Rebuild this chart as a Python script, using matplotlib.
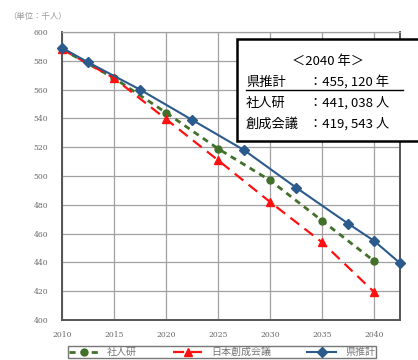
import matplotlib
matplotlib.use("Agg")
import matplotlib.pyplot as plt
from matplotlib.patches import Rectangle
from matplotlib.lines import Line2D

plt.rcParams['font.family'] = ['Noto Sans CJK JP', 'DejaVu Sans']

# data (thousand people)
years = [2010, 2015, 2020, 2025, 2030, 2035, 2040]
shajinken = [588, 568, 544, 519, 497, 469, 441]
sousei = [588, 568, 539.5, 511, 482, 454, 419.5]
ken_x = [2010, 2012.5, 2017.5, 2022.5, 2027.5, 2032.5, 2037.5, 2040, 2042.5]
ken_y = [589, 579, 560, 539, 518, 492, 467, 455, 439.5]

xticks = [2010, 2015, 2020, 2025, 2030, 2035, 2040]
yticks = list(range(400, 601, 20))

box_title = "＜2040 年＞"
box_labels = ["県推計", "社人研", "創成会議"]
box_values = ["：455, 120 年", "：441, 038 人", "：419, 543 人"]

W, H = 418, 360
fig = plt.figure(figsize=(W / 100, H / 100), dpi=100)
ax = fig.add_axes([62 / W, 1 - 320 / H, (400 - 62) / W, (320 - 32) / H])


def px(x, y):
    return x / W, 1 - y / H


ax.plot(years, shajinken, color='#42702a', lw=2.0, ls=(0, (2.2, 1.8)),
        marker='o', ms=5, label='社人研', zorder=3, clip_on=False)
ax.plot(years, sousei, color='#ff1010', lw=1.6, ls=(0, (5, 3)),
        marker='^', ms=5.5, label='日本創成会議', zorder=3, clip_on=False)
ax.plot(ken_x, ken_y, color='#2b5a8c', lw=1.5, marker='D', ms=5,
        label='県推計', zorder=4, clip_on=False)

ax.set_xlim(2010, 2042.5)
ax.set_ylim(400, 600)
ax.set_xticks(xticks)
ax.set_yticks(yticks)
ax.grid(True, color='#a0a0a0', lw=0.9)
ax.set_axisbelow(True)
ax.tick_params(length=0, labelsize=5.5, colors='#666666')
ax.tick_params(axis='x', pad=8)
ax.tick_params(axis='y', pad=10)
for lab in ax.get_xticklabels() + ax.get_yticklabels():
    lab.set_family('DejaVu Serif')
for s in ['left', 'bottom', 'right']:
    ax.spines[s].set_color('#555555')
    ax.spines[s].set_linewidth(1.4)
ax.spines['top'].set_color('#a0a0a0')
ax.spines['top'].set_linewidth(0.9)

fig.text(*px(8, 17), "（単位：千人）", fontsize=6, color='#999999',
         va='center', ha='left')

# annotation box
x0, y0 = px(237, 141)
x1, y1 = px(430, 39)
fig.patches.append(Rectangle((x0, y0), x1 - x0, y1 - y0, transform=fig.transFigure,
                             facecolor='white', edgecolor='black', lw=1.8,
                             zorder=10))
fig.text(*px(328, 62), box_title, fontsize=9.5, ha='center', va='center', zorder=11)
rows_y = [82, 103, 124]
for lab, val, yy in zip(box_labels, box_values, rows_y):
    fig.text(*px(246, yy), lab, fontsize=9.5, ha='left', va='center', zorder=11)
    fig.text(*px(309, yy), val, fontsize=9.5, ha='left', va='center', zorder=11)
fig.lines.append(Line2D([246 / W, 403 / W], [1 - 90 / H, 1 - 90 / H],
                        transform=fig.transFigure, color='black', lw=1.0,
                        zorder=11))

leg = ax.legend(ncol=3, loc='upper left', bbox_to_anchor=px(68, 346),
                bbox_transform=fig.transFigure, fontsize=7.2, frameon=True,
                fancybox=False, edgecolor='#555555', handlelength=2.9,
                handletextpad=0.9, columnspacing=3.6, borderpad=0.12,
                borderaxespad=0, labelcolor='#777777')
leg.get_frame().set_linewidth(1.0)

fig.savefig('out.png', dpi=100)
